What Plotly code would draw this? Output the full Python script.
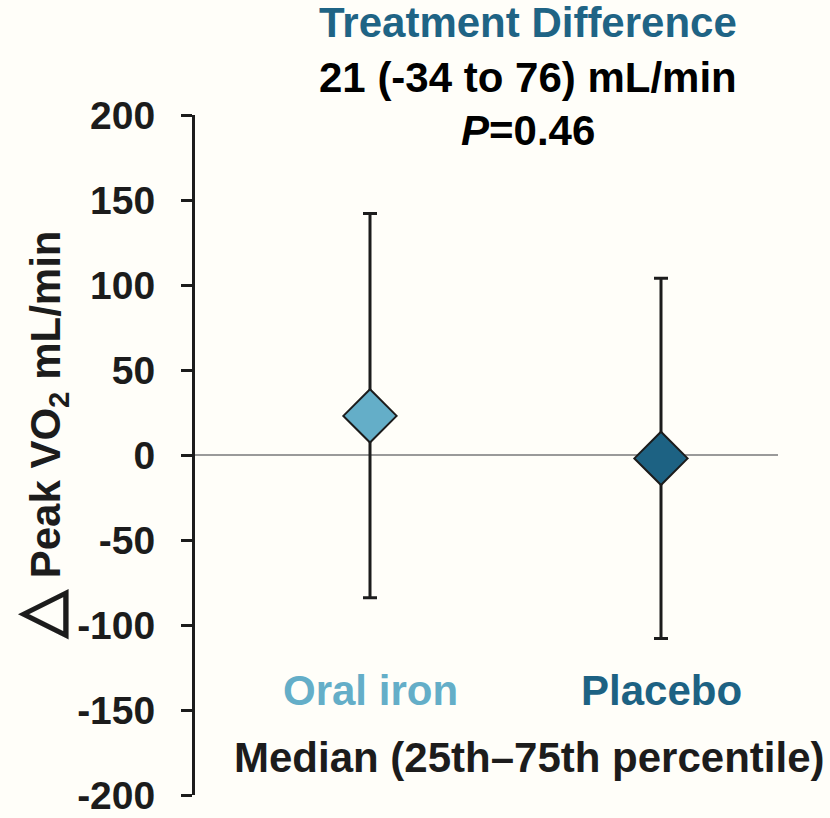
import plotly.graph_objects as go

# Groups and summary statistics (median with 25th/75th percentiles), mL/min
groups = ["Oral iron", "Placebo"]
group_pos = [1, 2]
medians = [23, -2]
q25 = [-84, -108]
q75 = [142, 104]
group_colors = ["#64AEC8", "#1D6283"]

tick_vals = [200, 150, 100, 50, 0, -50, -100, -150, -200]
tick_text = ["200", "150", "100", "50", "0", "-50", "-100", "-150", "-200"]

FONT = "Arial, 'Liberation Sans', sans-serif"
INK = "#1c1c1c"
TXT = 42

# plot area in pixels
L, R, T, B = 195, 52, 115, 23
W, H = 830, 818
PW, PH = W - L - R, H - T - B


def px_x(px):
    return (px - L) / PW


def px_y(py):
    return (H - B - py) / PH


fig = go.Figure()
for name, xp, m, lo, hi, col in zip(groups, group_pos, medians, q25, q75, group_colors):
    fig.add_trace(go.Scatter(
        x=[xp], y=[m], mode="markers", name=name, showlegend=False,
        marker=dict(symbol="diamond", size=41, color=col,
                    line=dict(color=INK, width=2)),
        error_y=dict(type="data", symmetric=False,
                     array=[hi - m], arrayminus=[m - lo],
                     color=INK, thickness=3, width=7),
    ))

# group labels under the points
for name, xp, col in zip(groups, group_pos, group_colors):
    fig.add_annotation(x=xp, y=px_y(690), xref="x", yref="paper", text=name,
                       showarrow=False, xanchor="center", yanchor="middle",
                       font=dict(family=FONT, size=TXT, color=col, weight="bold"))

fig.add_annotation(x=px_x(529), y=px_y(757), xref="paper", yref="paper",
                   text="Median (25th\u201375th percentile)", showarrow=False,
                   xanchor="center", yanchor="middle",
                   font=dict(family=FONT, size=TXT, color=INK, weight="bold"))

# header: treatment difference
header = [("Treatment Difference", 22, "#1F6485"),
          ("21 (-34 to 76) mL/min", 78, "#000000"),
          ("<i>P</i>=0.46", 130, "#000000")]
for txt, py, col in header:
    fig.add_annotation(x=px_x(528), y=px_y(py), xref="paper", yref="paper",
                       text=txt, showarrow=False, xanchor="center", yanchor="middle",
                       font=dict(family=FONT, size=TXT, color=col, weight="bold"))

# y-axis title
fig.add_annotation(x=px_x(39), y=px_y(436), xref="paper", yref="paper",
                   text='<span style="font-size:62px">\u25B3</span> Peak VO<sub>2</sub> mL/min',
                   textangle=-90, showarrow=False, xanchor="center", yanchor="middle",
                   font=dict(family=FONT, size=TXT, color=INK, weight="bold"))

fig.update_layout(
    width=W, height=H,
    margin=dict(l=L, r=R, t=T, b=B, autoexpand=False),
    paper_bgcolor="#FFFEF9", plot_bgcolor="#FFFEF9",
    xaxis=dict(range=[1 - 175 / 291, 1 - 175 / 291 + PW / 291], showgrid=False,
               zeroline=False, showline=False, showticklabels=False, ticks="",
               automargin=False),
    yaxis=dict(range=[-200, 200], tickvals=tick_vals, ticktext=tick_text,
               automargin=False,
               showgrid=False, zeroline=True, zerolinecolor="#9a9a9a",
               zerolinewidth=1.5, showline=True, linecolor=INK, linewidth=3,
               ticks="outside", ticklen=11, tickwidth=3, tickcolor=INK,
               ticklabelstandoff=18,
               tickfont=dict(family=FONT, size=39, color=INK, weight="bold")),
)

fig.write_html("out.html")
